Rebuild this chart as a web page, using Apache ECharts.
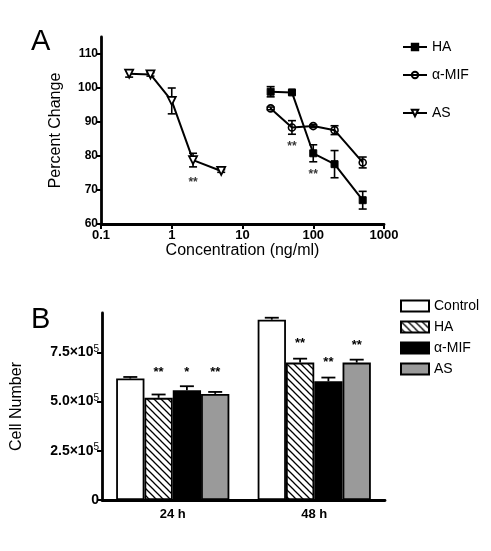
<!DOCTYPE html>
<html><head><meta charset="utf-8">
<script src="https://cdn.jsdelivr.net/npm/echarts@6/dist/echarts.min.js"></script>
<style>html,body{margin:0;padding:0;background:#fff}#c{width:491px;height:551px}</style>
</head><body><div id="c"></div>
<script>
// ---------- Panel A data ----------
const haX = [25, 50, 100, 200, 500];
const haY = [98.9, 98.7, 80.8, 77.6, 67.0];
const haErr = [1.5, 0.5, 2.5, 4.0, 2.6];
const mifX = [25, 50, 100, 200, 500];
const mifY = [94.0, 88.4, 88.8, 87.6, 78.1];
const mifErr = [0.4, 2.0, 0.4, 1.3, 1.6];
const asX = [0.25, 0.5, 1, 2, 5];
const asY = [104.2, 104.0, 96.2, 78.8, 75.6];
const asErr = [1.0, 0.5, 3.8, 2.0, 0.4];
const starsAX = [2, 50, 100];
const starsAY = [72.1, 82.6, 74.4];
const yTicksA = [60, 70, 80, 90, 100, 110];

// ---------- Panel B data ----------
const timeCats = ['24 h', '48 h'];
const barNames = ['Control', 'HA', 'α-MIF', 'AS'];
const controlVals = [6.17e5, 9.16e5];
const haVals = [5.19e5, 6.98e5];
const mifVals = [5.58e5, 6.03e5];
const asVals = [5.39e5, 6.98e5];
const controlErr = [0.08e5, 0.10e5];
const haBErr = [0.17e5, 0.20e5];
const mifBErr = [0.20e5, 0.19e5];
const asBErr = [0.10e5, 0.15e5];
const starText = [['', '**', '*', '**'], ['', '**', '**', '**']];
const starY = [[0, 6.49e5, 6.49e5, 6.49e5], [0, 7.96e5, 7.0e5, 7.86e5]];
const yTicksB = [0, 2.5e5, 5.0e5, 7.5e5];
const yTickLabelsB = ['0', '2.5×10{s|5}', '5.0×10{s|5}', '7.5×10{s|5}'];

const FONT = 'Liberation Sans, Arial, sans-serif';

function pairs(xs, ys) { return xs.map((x, i) => [x, ys[i]]); }
function errData(xs, ys, es) { return xs.map((x, i) => [x, ys[i], es[i]]); }

function errRenderA(params, api) {
  const x = api.value(0), y = api.value(1), e = api.value(2);
  const t = api.coord([x, y + e]), b = api.coord([x, y - e]);
  const w = 4;
  const st = { stroke: '#000', lineWidth: 1.6 };
  return { type: 'group', children: [
    { type: 'line', shape: { x1: t[0], y1: t[1], x2: b[0], y2: b[1] }, style: st },
    { type: 'line', shape: { x1: t[0] - w, y1: t[1], x2: t[0] + w, y2: t[1] }, style: st },
    { type: 'line', shape: { x1: b[0] - w, y1: b[1], x2: b[0] + w, y2: b[1] }, style: st }
  ]};
}

// hatch pattern
const pc = document.createElement('canvas');
pc.width = 7; pc.height = 7;
const g = pc.getContext('2d');
g.fillStyle = '#fff'; g.fillRect(0, 0, 7, 7);
g.strokeStyle = '#000'; g.lineWidth = 1.3;
g.beginPath();
g.moveTo(-1, -1); g.lineTo(8, 8);
g.moveTo(-1, 6); g.lineTo(1, 8);
g.moveTo(6, -1); g.lineTo(8, 1);
g.stroke();
const hatch = { image: pc, repeat: 'repeat' };

const barSeriesVals = [controlVals, haVals, mifVals, asVals];
const barSeriesErr = [controlErr, haBErr, mifBErr, asBErr];
const barColors = ['#ffffff', hatch, '#000000', '#9a9a9a'];

const errBData = [];
for (let c = 0; c < timeCats.length; c++) {
  for (let s = 0; s < 4; s++) {
    errBData.push([c, s, barSeriesVals[s][c], barSeriesErr[s][c], starY[c][s]]);
  }
}

function errRenderB(params, api) {
  const c = api.value(0), s = api.value(1), v = api.value(2), e = api.value(3), sy = api.value(4);
  const catW = api.size([1, 0])[0];
  const bw = catW * 0.8 / 4;
  const center = api.coord([c, 0])[0];
  const x = center + (s - 1.5) * bw;
  const top = api.coord([c, v + e])[1];
  const base = api.coord([c, v])[1];
  const w = 7;
  const st = { stroke: '#000', lineWidth: 1.8 };
  const children = [
    { type: 'line', shape: { x1: x, y1: base, x2: x, y2: top }, style: st },
    { type: 'line', shape: { x1: x - w, y1: top, x2: x + w, y2: top }, style: st }
  ];
  const txt = starText[c][s];
  if (txt) {
    const ty = api.coord([c, sy])[1];
    children.push({ type: 'text', x: x, y: ty, style: { text: txt, fill: '#000', font: 'bold 13px ' + FONT, align: 'center', verticalAlign: 'middle' } });
  }
  return { type: 'group', children };
}

const chart = echarts.init(document.getElementById('c'), null, { renderer: 'canvas' });
const axisLineStyle = { color: '#000', width: 2.8 };
const tickLabel = { color: '#000', fontFamily: FONT, fontWeight: 'bold', fontSize: 12 };
const legendText = { fontFamily: FONT, fontSize: 14, color: '#000' };

chart.setOption({
  backgroundColor: '#fff',
  animation: false,
  title: [
    { text: 'A', left: 26, top: 22, textStyle: { fontFamily: FONT, fontSize: 29, fontWeight: 'normal', color: '#000' } },
    { text: 'B', left: 26, top: 300, textStyle: { fontFamily: FONT, fontSize: 29, fontWeight: 'normal', color: '#000' } }
  ],
  legend: [
    { data: ['HA', 'α-MIF'], orient: 'vertical', left: 397, top: 35, itemWidth: 24, itemHeight: 8, itemGap: 14,
      textStyle: legendText, selectedMode: false },
    { data: ['AS'], orient: 'vertical', left: 397, top: 101, itemWidth: 24, itemHeight: 8,
      textStyle: legendText, selectedMode: false },
    { data: barNames.map(n => ({ name: n + ' ', icon: 'rect' })), orient: 'vertical', left: 395, top: 294, itemWidth: 28, itemHeight: 11, itemGap: 7,
      textStyle: legendText, selectedMode: false }
  ],
  grid: [
    { left: 101, top: 37, width: 283, height: 187 },
    { left: 102, top: 313, width: 283, height: 187 }
  ],
  xAxis: [
    { gridIndex: 0, type: 'log', logBase: 10, min: 0.1, max: 1000,
      axisLine: { lineStyle: axisLineStyle }, axisTick: { show: true, length: 5, lineStyle: { color: '#000', width: 2 } },
      minorTick: { show: false }, splitLine: { show: false },
      axisLabel: Object.assign({}, tickLabel, { margin: 5, fontSize: 13, formatter: v => String(v) }),
      name: 'Concentration (ng/ml)', nameLocation: 'middle', nameGap: 18,
      nameTextStyle: { fontFamily: FONT, fontSize: 16, color: '#000' } },
    { gridIndex: 1, type: 'category', data: timeCats,
      axisLine: { lineStyle: axisLineStyle }, axisTick: { show: false },
      axisLabel: Object.assign({}, tickLabel, { fontSize: 13, margin: 8 }) }
  ],
  yAxis: [
    { gridIndex: 0, type: 'value', min: 60, max: 115, interval: 10,
      axisLine: { show: true, lineStyle: axisLineStyle },
      axisTick: { show: true, length: 5, lineStyle: { color: '#000', width: 2 }, customValues: yTicksA },
      splitLine: { show: false },
      axisLabel: Object.assign({}, tickLabel, { margin: 3, customValues: yTicksA }),
      name: 'Percent Change', nameLocation: 'middle', nameGap: 37,
      nameTextStyle: { fontFamily: FONT, fontSize: 16, color: '#000' } },
    { gridIndex: 1, type: 'value', min: 0, max: 9.5e5, interval: 2.5e5,
      axisLine: { show: true, lineStyle: axisLineStyle },
      axisTick: { show: true, length: 5, lineStyle: { color: '#000', width: 2 }, customValues: yTicksB },
      splitLine: { show: false },
      axisLabel: Object.assign({}, tickLabel, { margin: 3, fontSize: 14, customValues: yTicksB,
        formatter: v => yTickLabelsB[yTicksB.indexOf(v)] || '',
        rich: { s: { fontSize: 10, fontWeight: 'normal', fontFamily: FONT, verticalAlign: 'top', padding: [0, 0, 7, 0], color: '#000' } } }),
      name: 'Cell Number', nameLocation: 'middle', nameGap: 77,
      nameTextStyle: { fontFamily: FONT, fontSize: 16, color: '#000' } }
  ],
  series: [
    { type: 'custom', xAxisIndex: 0, yAxisIndex: 0, z: 1, renderItem: errRenderA, data: errData(haX, haY, haErr), silent: true },
    { type: 'custom', xAxisIndex: 0, yAxisIndex: 0, z: 1, renderItem: errRenderA, data: errData(mifX, mifY, mifErr), silent: true },
    { type: 'custom', xAxisIndex: 0, yAxisIndex: 0, z: 1, renderItem: errRenderA, data: errData(asX, asY, asErr), silent: true },
    { name: 'HA', type: 'line', xAxisIndex: 0, yAxisIndex: 0, data: pairs(haX, haY), symbol: 'rect', symbolSize: 7,
      lineStyle: { color: '#000', width: 2 }, itemStyle: { color: '#000', borderColor: '#000', borderWidth: 1 } },
    { name: 'α-MIF', type: 'line', xAxisIndex: 0, yAxisIndex: 0, data: pairs(mifX, mifY), symbol: 'circle', symbolSize: 7,
      lineStyle: { color: '#000', width: 2 }, itemStyle: { color: 'rgba(255,255,255,0)', borderColor: '#000', borderWidth: 1.6 } },
    { name: 'AS', type: 'line', xAxisIndex: 0, yAxisIndex: 0, data: pairs(asX, asY), symbol: 'triangle', symbolRotate: 180, symbolSize: 8,
      lineStyle: { color: '#000', width: 2 }, itemStyle: { color: '#fff', borderColor: '#000', borderWidth: 1.8 } },
    { type: 'scatter', xAxisIndex: 0, yAxisIndex: 0, data: pairs(starsAX, starsAY), symbolSize: 0, silent: true,
      label: { show: true, position: 'inside', formatter: '**', fontFamily: FONT, fontWeight: 'bold', fontSize: 12, color: '#000' } },
    ...barNames.map((n, i) => ({
      name: n + ' ', type: 'bar', xAxisIndex: 1, yAxisIndex: 1, data: barSeriesVals[i],
      barGap: '0%', barCategoryGap: '20%',
      itemStyle: { color: barColors[i], borderColor: '#000', borderWidth: 1.8 }
    })),
    { type: 'custom', xAxisIndex: 1, yAxisIndex: 1, z: 3, renderItem: errRenderB, data: errBData, silent: true }
  ]
});
</script></body></html>
